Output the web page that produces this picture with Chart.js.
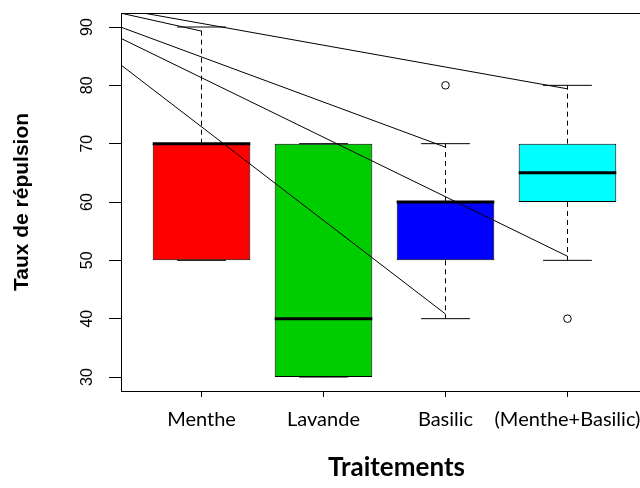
<!DOCTYPE html>
<html>
<head>
<meta charset="utf-8">
<script src="https://cdn.jsdelivr.net/npm/chart.js@4.4.1/dist/chart.umd.min.js"></script>
<style>
  html, body { margin: 0; padding: 0; background: #fff; overflow: hidden; width: 640px; height: 488px; }
  canvas { display: block; }
</style>
</head>
<body>
<canvas id="chart" width="660" height="488"></canvas>
<script>
// Treatments and their box statistics (taux de répulsion, %)
const categories = ['Menthe', 'Lavande', 'Basilic', '(Menthe+Basilic)'];
const positions = [1, 2, 3, 4];
const lowerWhisker = [50, 30, 40, 50];
const firstQuartile = [50, 30, 50, 60];
const medians = [70, 40, 60, 65];
const thirdQuartile = [70, 70, 60, 70];
const upperWhisker = [90, 70, 70, 80];
const boxColors = ['#FF0000', '#00CD00', '#0000FF', '#00FFFF'];

// Points beyond the whiskers
const outlierGroups = [3, 4];
const outlierValues = [80, 40];

const yTicks = [30, 40, 50, 60, 70, 80, 90];

// Stray connector strokes: shared start point, then each end point
const strayStartX = -0.44;
const strayStartY = 96.0;
const strayEndX = [1, 3, 4, 4, 3];
const strayEndY = [89.3, 69.4, 79.4, 50.7, 40.8];

const xAxisTitle = 'Traitements';
const yAxisTitle = 'Taux de répulsion';

const BOX_HALF = 0.4;
const CAP_HALF = 0.2;

function segment(points, extra) {
  return Object.assign({
    type: 'line',
    data: points,
    borderColor: '#000',
    borderWidth: 1,
    pointRadius: 0,
    pointHoverRadius: 0,
    fill: false,
    tension: 0,
    clip: 0
  }, extra || {});
}

const datasets = [];

// Boxes: floating bars from Q1 to Q3
datasets.push({
  type: 'bar',
  data: positions.map((p, i) => ({ x: p, y: [firstQuartile[i], thirdQuartile[i]] })),
  backgroundColor: boxColors,
  borderColor: '#000',
  borderWidth: 1,
  borderSkipped: false,
  barPercentage: 0.8,
  categoryPercentage: 1,
  order: 6
});

positions.forEach((p, i) => {
  // dashed whiskers from the box edges out to the extremes
  datasets.push(segment([{ x: p, y: thirdQuartile[i] }, { x: p, y: upperWhisker[i] }], { borderDash: [5, 4], order: 5 }));
  datasets.push(segment([{ x: p, y: firstQuartile[i] }, { x: p, y: lowerWhisker[i] }], { borderDash: [5, 4], order: 5 }));
  // staples
  datasets.push(segment([{ x: p - CAP_HALF, y: upperWhisker[i] }, { x: p + CAP_HALF, y: upperWhisker[i] }], { order: 4 }));
  datasets.push(segment([{ x: p - CAP_HALF, y: lowerWhisker[i] }, { x: p + CAP_HALF, y: lowerWhisker[i] }], { order: 4 }));
  // median bar
  datasets.push(segment([{ x: p - BOX_HALF, y: medians[i] }, { x: p + BOX_HALF, y: medians[i] }], { borderWidth: 3, order: 3 }));
});

// Outliers as open circles
datasets.push({
  type: 'line',
  data: outlierGroups.map((g, i) => ({ x: g, y: outlierValues[i] })),
  showLine: false,
  pointStyle: 'circle',
  pointRadius: 3.8,
  pointHoverRadius: 3.8,
  pointBorderWidth: 1,
  pointBorderColor: '#000',
  pointBackgroundColor: 'rgba(0,0,0,0)',
  clip: 0,
  order: 2
});

// Stray strokes, clipped to the plot frame
strayEndX.forEach((ex, i) => {
  datasets.push(segment([{ x: strayStartX, y: strayStartY }, { x: ex, y: strayEndY[i] }], { order: 1 }));
});

// Bottom axis caption, set a little right of the plot centre
const xCaption = {
  id: 'xCaption',
  afterDraw(chart) {
    const { ctx, chartArea } = chart;
    ctx.save();
    ctx.font = 'bold 26px Lato';
    ctx.fillStyle = '#000';
    ctx.textAlign = 'center';
    ctx.textBaseline = 'alphabetic';
    ctx.fillText(xAxisTitle, (chartArea.left + chartArea.right) / 2 + 12, 476);
    ctx.restore();
  }
};

new Chart(document.getElementById('chart'), {
  type: 'bar',
  data: { datasets },
  plugins: [xCaption],
  options: {
    responsive: false,
    animation: false,
    devicePixelRatio: 1,
    layout: { padding: { top: 13, right: 12, left: 0, bottom: 0 } },
    plugins: { legend: { display: false }, tooltip: { enabled: false } },
    scales: {
      x: {
        type: 'linear',
        position: 'bottom',
        min: 0.34,
        max: 4.66,
        offset: false,
        afterBuildTicks: (s) => { s.ticks = positions.map(v => ({ value: v })); },
        afterFit: (s) => { s.height = 97; s.paddingLeft = 0; s.paddingRight = 0; },
        ticks: {
          autoSkip: false, minRotation: 0, maxRotation: 0, padding: 11,
          color: '#000',
          font: { family: 'Lato', size: 20 },
          callback: (v, i) => categories[i]
        },
        grid: { offset: false, drawOnChartArea: false, drawTicks: true, tickLength: 6, tickColor: '#000', color: '#000' },
        border: { display: true, color: '#000', width: 1 },
        title: { display: false }
      },
      xTop: {
        type: 'linear',
        position: 'top',
        min: 0.34,
        max: 4.66,
        offset: false,
        afterFit: (s) => { s.height = 0; s.paddingLeft = 0; s.paddingRight = 0; },
        ticks: { display: false },
        grid: { display: false, drawTicks: false },
        border: { display: true, color: '#000', width: 1 }
      },
      y: {
        type: 'linear',
        position: 'left',
        min: 27.6,
        max: 92.4,
        afterBuildTicks: (s) => { s.ticks = yTicks.map(v => ({ value: v })); },
        afterFit: (s) => { s.width = 121; s.paddingTop = 0; s.paddingBottom = 0; },
        ticks: {
          autoSkip: false, minRotation: 90, maxRotation: 90, crossAlign: 'center', padding: 13,
          color: '#000',
          font: { family: 'Liberation Sans', size: 16 }
        },
        grid: { drawOnChartArea: false, drawTicks: true, tickLength: 12, tickColor: '#000', color: '#000' },
        border: { display: true, color: '#000', width: 1 },
        title: {
          display: true, text: yAxisTitle, color: '#000',
          font: { family: 'Liberation Sans', size: 21, weight: 'bold' },
          padding: { top: 10, bottom: 0 }
        }
      }
    }
  }
});
</script>
</body>
</html>
